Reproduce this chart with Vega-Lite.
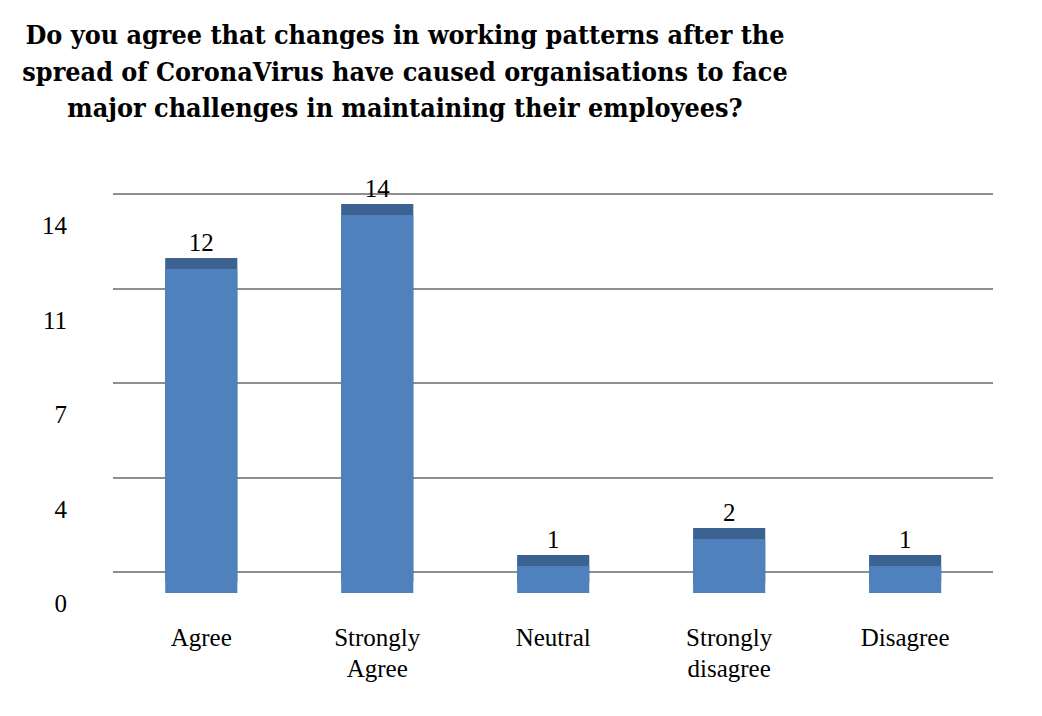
{
  "$schema": "https://vega.github.io/schema/vega-lite/v6.json",
  "autosize": {"type": "none"},
  "width": 880,
  "height": 378,
  "padding": {"left": 134, "top": 215, "right": 28, "bottom": 123},
  "background": "white",
  "config": {"view": {"stroke": null}},
  "title": {
    "text": ["Do you agree that changes in working patterns after the", "spread of CoronaVirus have caused organisations to face", "major challenges in maintaining their employees?"],
    "font": "DejaVu Serif Condensed",
    "fontSize": 26.7,
    "fontWeight": "bold",
    "color": "black",
    "lineHeight": 36.5,
    "anchor": "start",
    "frame": "group",
    "align": "center",
    "dx": 271,
    "offset": 54
  },
  "data": {
    "values": [
      {"response": "Agree", "count": 12},
      {"response": "Strongly Agree", "count": 14},
      {"response": "Neutral", "count": 1},
      {"response": "Strongly disagree", "count": 2},
      {"response": "Disagree", "count": 1}
    ]
  },
  "encoding": {
    "x": {
      "field": "response",
      "type": "nominal",
      "sort": null,
      "scale": {"paddingInner": 0.59, "paddingOuter": 0.2955, "align": 0.3},
      "axis": {
        "title": null,
        "domain": false,
        "ticks": false,
        "grid": false,
        "labelAngle": 0,
        "labelFont": "Liberation Serif",
        "labelFontSize": 25,
        "labelColor": "black",
        "labelPadding": 32,
        "labelLineHeight": 31,
        "labelBaseline": "top",
        "labelExpr": "split(datum.label, ' ')"
      }
    },
    "y": {
      "field": "count",
      "type": "quantitative",
      "scale": {"domain": [0, 14], "nice": false, "zero": true},
      "axis": {
        "title": null,
        "values": [0, 3.5, 7, 10.5, 14],
        "labelExpr": "format(round(datum.value), 'd')",
        "domain": false,
        "ticks": false,
        "tickSize": 0,
        "grid": true,
        "gridColor": "#8E8E8E",
        "gridWidth": 2,
        "translate": -21,
        "labelFont": "Liberation Serif",
        "labelFontSize": 25,
        "labelColor": "black",
        "labelPadding": 46,
        "labelOffset": 32
      }
    }
  },
  "layer": [
    {
      "mark": {"type": "bar", "color": "#3B6290", "yOffset": -11}
    },
    {
      "mark": {"type": "bar", "color": "#4F81BD"}
    },
    {
      "mark": {"type": "text", "font": "Liberation Serif", "fontSize": 25, "color": "black", "baseline": "alphabetic", "dy": -18},
      "encoding": {"text": {"field": "count", "type": "quantitative"}}
    }
  ]
}
